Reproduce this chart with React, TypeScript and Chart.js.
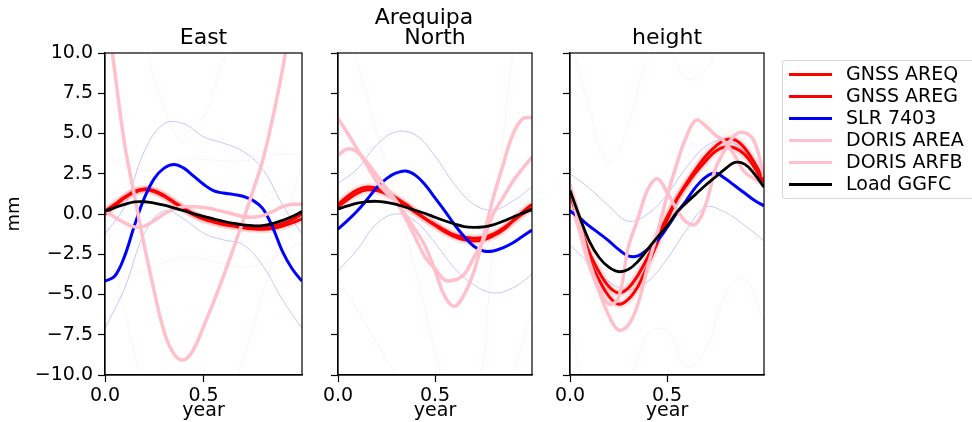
import React, { useEffect, useRef } from "react";
import { Chart, registerables } from "chart.js";

Chart.register(...registerables);

const FONT = "'DejaVu Sans', 'Liberation Sans', sans-serif";

// ---------- data ----------
const YEARS = [0, 0.05, 0.1, 0.15, 0.2, 0.25, 0.3, 0.35, 0.4, 0.45, 0.5, 0.55, 0.6, 0.65, 0.7, 0.75, 0.8, 0.85, 0.9, 0.95, 1.0];
const YEARS_BAND = [0, 0.1, 0.2, 0.3, 0.4, 0.5, 0.6, 0.7, 0.8, 0.9, 1.0];
const X_TICKS = [0, 0.5];
const Y_MIN = -10;
const Y_MAX = 10;
const Y_STEP = 2.5;

const PANEL_TITLES = ["East", "North", "height"];
const SUPTITLE = "Arequipa";
const LEGEND_LABELS = ["GNSS AREQ", "GNSS AREG", "SLR 7403", "DORIS AREA", "DORIS ARFB", "Load GGFC"];

// East
const EAST_AREQ = [0.0, 0.5, 1.0, 1.4, 1.56, 1.45, 1.15, 0.75, 0.35, 0.0, -0.3, -0.5, -0.65, -0.75, -0.85, -0.92, -0.95, -0.9, -0.75, -0.55, -0.3];
const EAST_AREG = [0.2, 0.6, 1.05, 1.35, 1.5, 1.4, 1.1, 0.7, 0.3, -0.05, -0.3, -0.45, -0.6, -0.7, -0.8, -0.85, -0.85, -0.78, -0.6, -0.35, 0.0];
const EAST_SLR = [-4.17, -3.85, -2.6, -0.7, 1.0, 2.2, 2.85, 3.08, 2.85, 2.35, 1.85, 1.45, 1.3, 1.22, 1.1, 0.85, 0.35, -0.8, -2.3, -3.4, -4.17];
const EAST_AREA = [13.5, 8.8, 4.3, 1.1, -2.0, -4.8, -7.3, -8.7, -9.06, -8.4, -7.0, -5.5, -3.9, -2.2, -0.45, 1.4, 3.3, 5.9, 8.9, 12.5, 16.0];
const EAST_ARFB = [0.2, -0.2, -0.55, -0.8, -0.75, -0.4, 0.0, 0.3, 0.45, 0.45, 0.4, 0.3, 0.15, 0.0, -0.15, -0.2, -0.1, 0.15, 0.45, 0.6, 0.6];
const EAST_LOAD = [0.17, 0.4, 0.6, 0.75, 0.76, 0.68, 0.55, 0.38, 0.2, 0.02, -0.15, -0.3, -0.45, -0.58, -0.68, -0.73, -0.72, -0.6, -0.4, -0.15, 0.15];
const EAST_SLR_HI = [-1.25, 0.5, 3.9, 5.6, 5.6, 4.8, 4.4, 3.9, 2.8, 0.6, -1.25];
const EAST_SLR_LO = [-7.1, -4.6, -1.2, 0.2, -0.3, -1.2, -1.6, -1.9, -3.2, -5.3, -7.1];
const EAST_ARFB_HI = [3.65, 3.1, 2.7, 3.0, 3.4, 3.4, 3.3, 3.3, 3.5, 3.75, 3.65];
const EAST_ARFB_LO = [-3.2, -3.9, -3.5, -3.0, -2.7, -2.8, -3.1, -3.3, -3.1, -2.4, -1.7];
const EAST_AREA_HI = [26, 17, 11, 6.5, 4.5, 6, 9.5, 13, 17, 22, 28];
const EAST_AREA_LO = [0, -6, -11, -15, -17, -15, -12, -9, -5, -1, 3];

// North
const NORTH_AREQ = [0.6, 1.1, 1.5, 1.67, 1.6, 1.35, 1.0, 0.6, 0.15, -0.3, -0.7, -1.1, -1.4, -1.6, -1.67, -1.6, -1.35, -1.0, -0.45, 0.1, 0.6];
const NORTH_AREG = [0.45, 0.9, 1.3, 1.5, 1.45, 1.25, 0.9, 0.5, 0.1, -0.3, -0.65, -1.0, -1.3, -1.45, -1.5, -1.45, -1.25, -0.9, -0.45, 0.0, 0.35];
const NORTH_SLR = [-0.94, -0.4, 0.2, 0.9, 1.65, 2.2, 2.55, 2.67, 2.4, 1.8, 1.0, 0.2, -0.65, -1.4, -2.0, -2.3, -2.3, -2.1, -1.8, -1.4, -1.0];
const NORTH_AREA = [5.94, 5.0, 4.0, 3.0, 2.0, 1.3, 0.8, -0.1, -1.0, -2.0, -3.5, -5.1, -5.73, -5.0, -3.6, -1.4, 1.0, 3.0, 4.9, 5.9, 6.0];
const NORTH_ARFB = [3.65, 4.05, 3.85, 3.2, 2.4, 1.6, 0.8, -0.3, -1.5, -2.7, -3.4, -4.1, -4.1, -3.75, -2.7, -1.6, 0.0, 1.0, 2.0, 2.8, 3.54];
const NORTH_LOAD = [0.31, 0.5, 0.67, 0.77, 0.79, 0.72, 0.6, 0.42, 0.22, 0.03, -0.2, -0.42, -0.62, -0.78, -0.83, -0.8, -0.67, -0.45, -0.2, 0.05, 0.27];
const NORTH_SLR_HI = [1.9, 2.8, 4.3, 5.1, 4.9, 3.6, 1.85, 0.6, 0.25, 0.8, 1.67];
const NORTH_SLR_LO = [-3.54, -2.2, -0.6, 0.0, -0.45, -1.8, -3.35, -4.4, -4.9, -4.6, -3.75];
const NORTH_AREA_HI = [14, 9.5, 5, 1, -3.5, -8.5, -13, -15, -14, -10, -6];
const NORTH_AREA_LO = [-4, -6, -8, -10, -12, -13, -14, -13, -2, 10, 17];

// height
const HEIGHT_AREQ = [1.46, -0.7, -2.8, -4.1, -5.1, -5.6, -5.3, -4.5, -3.2, -1.8, -0.4, 0.9, 1.9, 2.8, 3.6, 4.2, 4.6, 4.6, 4.1, 3.2, 2.08];
const HEIGHT_AREG = [1.25, -0.6, -2.4, -3.6, -4.5, -4.9, -4.6, -3.8, -2.7, -1.4, -0.2, 0.9, 1.8, 2.6, 3.3, 3.9, 4.17, 4.1, 3.7, 2.9, 1.9];
const HEIGHT_SLR = [0.2, -0.25, -0.75, -1.2, -1.67, -2.2, -2.6, -2.6, -2.2, -1.65, -0.85, 0.05, 0.85, 1.7, 2.3, 2.54, 2.2, 1.75, 1.3, 0.85, 0.5];
const HEIGHT_AREA = [1.87, -0.9, -3.2, -4.8, -6.3, -7.2, -6.9, -5.6, -3.3, -1.2, 1.1, 3.1, 4.8, 5.83, 5.45, 4.9, 4.45, 3.6, 2.6, 2.2, 1.77];
const HEIGHT_ARFB = [1.67, -0.6, -3.0, -4.6, -5.6, -5.2, -2.1, -0.3, 1.5, 2.19, 1.35, 0.3, -0.5, -0.6, 0.6, 2.8, 4.0, 4.9, 5.05, 4.5, 2.3];
const HEIGHT_LOAD = [1.46, -0.2, -1.7, -2.7, -3.3, -3.58, -3.45, -2.95, -2.2, -1.45, -0.75, 0.1, 0.7, 1.25, 1.8, 2.3, 2.8, 3.2, 3.1, 2.5, 1.67];
const HEIGHT_SLR_HI = [2.5, 1.6, 0.5, -0.45, 0.0, 1.2, 2.9, 4.2, 4.6, 3.9, 2.5];
const HEIGHT_SLR_LO = [-1.9, -3.1, -4.2, -4.7, -4.2, -2.8, -1.0, 0.42, 0.1, -0.7, -1.67];
const HEIGHT_ARFB_HI = [11, 6.5, 3.2, 5.5, 9.5, 10.3, 8.4, 9.0, 12, 14, 11.5];
const HEIGHT_ARFB_LO = [-7, -12, -14.5, -11, -7.5, -7.2, -9.5, -8.4, -5, -4, -6.7];

// ---------- styling ----------
const RED = "#ff0000";
const BLUE = "#0000ff";
const PINK = "#ffc0cb";
const BLACK = "#000000";
const LEGEND_COLORS = [RED, RED, BLUE, PINK, PINK, BLACK];

const pts = (xs: number[], ys: number[]) => xs.map((x, i) => ({ x, y: ys[i] }));

function ds(xs: number[], ys: number[], color: string, width: number, order: number) {
  return {
    data: pts(xs, ys),
    borderColor: color,
    borderWidth: width,
    pointRadius: 0,
    fill: false,
    tension: 0.4,
    clip: 0,
    order,
  };
}

type Panel = {
  title: string;
  areq: number[];
  areg: number[];
  slr: number[];
  area: number[];
  arfb: number[];
  load: number[];
  blueBands: number[][];
  pinkBands: number[][];
  left: number;
  right: number;
  showY: boolean;
};

const PANELS: Panel[] = [
  {
    title: PANEL_TITLES[0], areq: EAST_AREQ, areg: EAST_AREG, slr: EAST_SLR, area: EAST_AREA, arfb: EAST_ARFB, load: EAST_LOAD,
    blueBands: [EAST_SLR_HI, EAST_SLR_LO], pinkBands: [EAST_ARFB_HI, EAST_ARFB_LO, EAST_AREA_HI, EAST_AREA_LO],
    left: 105, right: 302, showY: true,
  },
  {
    title: PANEL_TITLES[1], areq: NORTH_AREQ, areg: NORTH_AREG, slr: NORTH_SLR, area: NORTH_AREA, arfb: NORTH_ARFB, load: NORTH_LOAD,
    blueBands: [NORTH_SLR_HI, NORTH_SLR_LO], pinkBands: [NORTH_AREA_HI, NORTH_AREA_LO],
    left: 338, right: 532, showY: false,
  },
  {
    title: PANEL_TITLES[2], areq: HEIGHT_AREQ, areg: HEIGHT_AREG, slr: HEIGHT_SLR, area: HEIGHT_AREA, arfb: HEIGHT_ARFB, load: HEIGHT_LOAD,
    blueBands: [HEIGHT_SLR_HI, HEIGHT_SLR_LO], pinkBands: [HEIGHT_ARFB_HI, HEIGHT_ARFB_LO],
    left: 570, right: 764, showY: false,
  },
];

const W = 972;
const H = 422;
const PLOT_TOP = 53;
const PLOT_BOTTOM = 375;
const TITLE_SIZE = 22;

const framePlugin = {
  id: "frame",
  afterDatasetsDraw(chart: any) {
    const { ctx, chartArea: a } = chart;
    ctx.save();
    ctx.strokeStyle = "#000";
    ctx.lineWidth = 1.2;
    ctx.strokeRect(a.left, a.top, a.right - a.left, a.bottom - a.top);
    ctx.restore();
  },
};

function fmt(v: number) {
  return (v < 0 ? "\u2212" : "") + Math.abs(v).toFixed(1);
}

function PanelChart({ p }: { p: Panel }) {
  const ref = useRef<HTMLCanvasElement>(null);
  useEffect(() => {
    if (!ref.current) return;
    const datasets: any[] = [];
    datasets.push(ds(YEARS, p.load, BLACK, 2.8, 0));
    datasets.push(ds(YEARS, p.arfb, PINK, 3.5, 1));
    datasets.push(ds(YEARS, p.area, PINK, 3.5, 2));
    datasets.push(ds(YEARS, p.slr, BLUE, 3, 3));
    datasets.push(ds(YEARS, p.areg, RED, 3, 4));
    datasets.push(ds(YEARS, p.areq, RED, 3, 5));
    datasets.push(ds(YEARS, p.areg, "rgba(255,0,0,0.12)", 8, 6));
    datasets.push(ds(YEARS, p.areq, "rgba(255,0,0,0.12)", 8, 7));
    p.blueBands.forEach((b) => datasets.push(ds(YEARS_BAND, b, "rgba(0,0,255,0.25)", 0.9, 8)));
    p.pinkBands.forEach((b) => datasets.push(ds(YEARS_BAND, b, "rgba(255,170,185,0.16)", 1, 9)));

    const tickFont = { family: FONT, size: 19 };
    const titleBox = TITLE_SIZE * 1.2 + 2;
    const chart = new Chart(ref.current, {
      type: "line",
      data: { datasets },
      plugins: [framePlugin],
      options: {
        responsive: false,
        animation: false,
        devicePixelRatio: 1,
        layout: { padding: { left: 0, right: W - p.right, top: PLOT_TOP - titleBox, bottom: 0 } },
        plugins: {
          legend: { display: false },
          tooltip: { enabled: false },
          title: {
            display: true,
            text: p.title,
            fullSize: false,
            color: "#000",
            font: { family: FONT, size: TITLE_SIZE, weight: "normal", lineHeight: 1.2 },
            padding: { top: 0, bottom: 2 },
          },
        },
        scales: {
          x: {
            type: "linear",
            min: 0,
            max: 1,
            afterBuildTicks: (s: any) => {
              s.ticks = X_TICKS.map((v) => ({ value: v }));
            },
            afterFit: (s: any) => {
              s.height = H - PLOT_BOTTOM;
            },
            ticks: { callback: (v: any) => Number(v).toFixed(1), font: tickFont, color: "#000", padding: 3, maxRotation: 0, autoSkip: false },
            grid: { drawOnChartArea: false, drawTicks: true, tickLength: 7, tickColor: "#000", tickWidth: 1.2 },
            border: { display: true, color: "#000", width: 1.2 },
            title: { display: true, text: "year", color: "#000", font: { family: FONT, size: 19, lineHeight: 1.2 }, padding: { top: 0, bottom: 0 } },
          },
          y: {
            type: "linear",
            min: Y_MIN,
            max: Y_MAX,
            afterFit: (s: any) => {
              s.width = p.left;
            },
            ticks: {
              stepSize: Y_STEP,
              callback: (v: any) => (p.showY ? fmt(Number(v)) : ""),
              font: tickFont,
              color: "#000",
              padding: 5,
            },
            grid: { drawOnChartArea: false, drawTicks: true, tickLength: 7, tickColor: "#000", tickWidth: 1.2 },
            border: { display: true, color: "#000", width: 1.2 },
            title: { display: p.showY, text: "mm", color: "#000", font: { family: FONT, size: 18, lineHeight: 1.2 }, padding: { top: 4, bottom: 0 } },
          },
        },
      } as any,
    });
    return () => chart.destroy();
  }, [p]);
  return (
    <canvas
      ref={ref}
      width={W}
      height={H}
      style={{ position: "absolute", left: 0, top: 0, width: W, height: H }}
    />
  );
}

function Legend() {
  const top0 = 60;
  const rows = [73, 95, 117, 139, 161, 183];
  return (
    <div
      style={{
        position: "absolute",
        left: 782,
        top: top0,
        width: 210,
        height: 139,
        border: "1px solid rgba(204,204,204,0.8)",
        borderRadius: 4,
        background: "rgba(255,255,255,0.8)",
        boxSizing: "border-box",
      }}
    >
      {LEGEND_LABELS.map((label, i) => (
        <React.Fragment key={label}>
          <div
            style={{
              position: "absolute",
              left: 6,
              top: rows[i] - top0 - 1.5,
              width: 43,
              height: 3,
              background: LEGEND_COLORS[i],
            }}
          />
          <div
            style={{
              position: "absolute",
              left: 63,
              top: rows[i] - top0 - 12,
              lineHeight: "22px",
              fontFamily: FONT,
              fontSize: 19,
              color: "#000",
              whiteSpace: "nowrap",
            }}
          >
            {label}
          </div>
        </React.Fragment>
      ))}
    </div>
  );
}

export default function App() {
  return (
    <div style={{ position: "absolute", left: 0, top: 0, width: W, height: H, overflow: "hidden", background: "#fff" }}>
      {PANELS.map((p) => (
        <PanelChart key={p.title} p={p} />
      ))}
      <div
        style={{
          position: "absolute",
          left: 424,
          top: 4,
          transform: "translateX(-50%)",
          fontFamily: FONT,
          fontSize: TITLE_SIZE,
          lineHeight: "25px",
          color: "#000",
          whiteSpace: "nowrap",
        }}
      >
        {SUPTITLE}
      </div>
      <Legend />
    </div>
  );
}
